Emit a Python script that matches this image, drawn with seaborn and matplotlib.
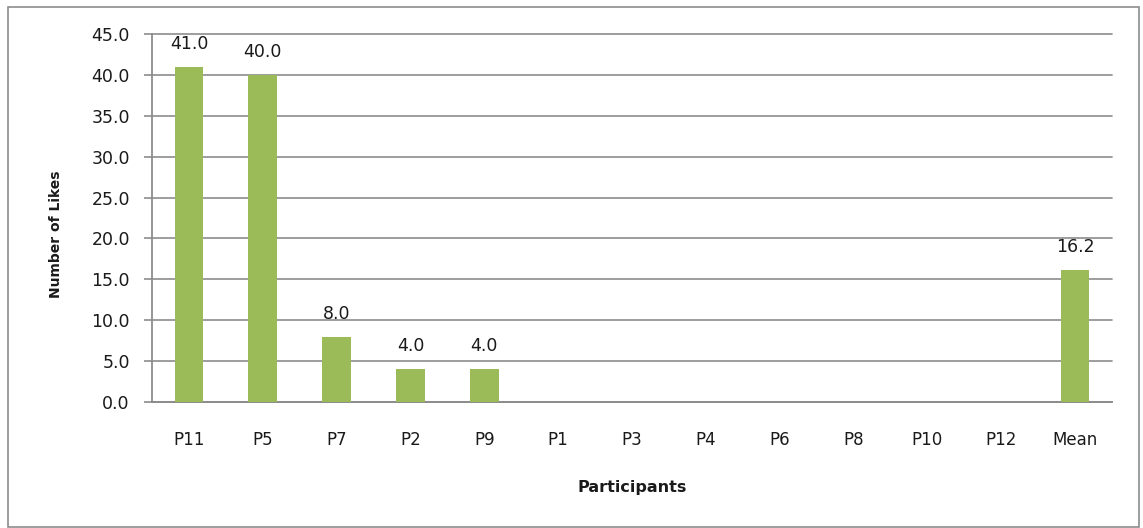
import matplotlib
matplotlib.use("Agg")
import matplotlib.pyplot as plt
import matplotlib.patches as mpatches
import seaborn as sns
import pandas as pd

participants = ["P11", "P5", "P7", "P2", "P9", "P1", "P3", "P4", "P6", "P8", "P10", "P12", "Mean"]
likes = [41.0, 40.0, 8.0, 4.0, 4.0, 0, 0, 0, 0, 0, 0, 0, 16.2]
labelled = ["P11", "P5", "P7", "P2", "P9", "Mean"]

df = pd.DataFrame({"Participants": participants, "Likes": likes})

sns.set_theme(style="white")
plt.rcParams["font.family"] = ["DejaVu Sans"]

TXT = "#1a1a1a"
GRID = "#8c8c8c"

W, H = 1143, 528
fig = plt.figure(figsize=(W / 100, H / 100), dpi=100)
ax = fig.add_axes([152 / W, 1 - 402 / H, (1112 - 152) / W, (402 - 34) / H])

sns.barplot(data=df, x="Participants", y="Likes", color="#9BBB59", width=0.39,
            saturation=1, linewidth=0, ax=ax, zorder=3)

ax.set_ylim(0, 45)
ax.set_yticks([0, 5, 10, 15, 20, 25, 30, 35, 40, 45])
ax.set_yticklabels([f"{v:.1f}" for v in ax.get_yticks()], fontsize=12.5, color=TXT)
ax.set_xlim(-0.5, len(participants) - 0.5)
ax.tick_params(axis="x", length=0, pad=21, labelsize=12, labelcolor=TXT)
ax.tick_params(axis="y", length=6, width=1.2, color=GRID, direction="out", pad=10, left=True)

ax.grid(axis="y", color=GRID, linewidth=1.2, zorder=0)
for gl in ax.get_ygridlines():
    gl.set_clip_on(False)
ax.set_axisbelow(True)
for s in ["top", "right"]:
    ax.spines[s].set_visible(False)
for s in ["left", "bottom"]:
    ax.spines[s].set_color(GRID)
    ax.spines[s].set_linewidth(1.3)

for name, val in zip(participants, likes):
    if name in labelled:
        i = participants.index(name)
        ax.annotate(f"{val:.1f}", xy=(i, val), xytext=(0, 10), textcoords="offset points",
                    ha="center", va="bottom", fontsize=12.5, color=TXT)

ax.set_xlabel("Participants", fontsize=11.5, fontweight="bold", labelpad=22, color=TXT)
ax.set_ylabel("Number of Likes", fontsize=10, fontweight="bold", color=TXT)
ax.yaxis.set_label_coords(-0.093, 0.455)

fig.patches.append(mpatches.Rectangle((8 / W, 1 / H), (1139 - 8) / W, (520) / H,
                                      transform=fig.transFigure, fill=False,
                                      edgecolor=GRID, linewidth=1.2))

fig.savefig("out.png", dpi=100)
